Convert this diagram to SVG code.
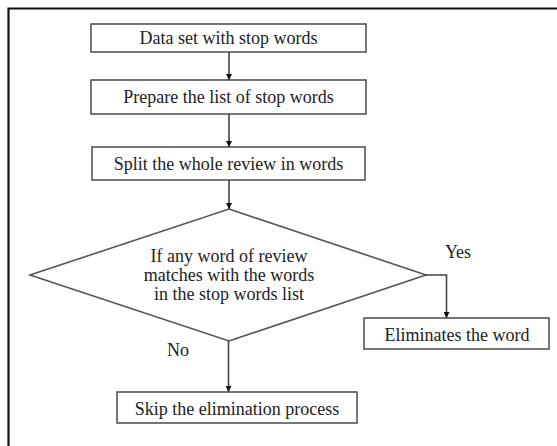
<svg xmlns="http://www.w3.org/2000/svg" width="557" height="446" viewBox="0 0 557 446">
<style>
.box{fill:#fff;stroke:#555;stroke-width:1.6}
.t{font-family:"Liberation Serif","Times New Roman",serif;font-size:18px;fill:#222;text-anchor:middle}
.c{fill:none;stroke:#444;stroke-width:1.6}
</style>
<defs>
<marker id="ah" viewBox="0 0 10 10" refX="10" refY="5" markerWidth="6" markerHeight="6" orient="auto" markerUnits="userSpaceOnUse">
<path d="M0,0 L10,5 L0,10 z" fill="#111"/>
</marker>
</defs>
<rect width="557" height="446" fill="#fff"/>
<path d="M8.5,446 V8.5 H557" fill="none" stroke="#111" stroke-width="2.2"/>
<g id="n1"><rect class="box" x="91" y="24" width="275" height="28"/><text class="t" x="228.5" y="44">Data set with stop words</text></g>
<g id="n2"><rect class="box" x="91" y="80" width="275" height="34"/><text class="t" x="228.5" y="103">Prepare the list of stop words</text></g>
<g id="n3"><rect class="box" x="92" y="147" width="273" height="33"/><text class="t" x="228.5" y="170">Split the whole review in words</text></g>
<g id="n4"><polygon class="box" points="229,209 426,275 229,341 30,275"/>
<text class="t" x="229" y="262">If any word of review</text>
<text class="t" x="229" y="281">matches with the words</text>
<text class="t" x="229" y="300">in the stop words list</text></g>
<g id="n5"><rect class="box" x="364" y="318" width="185" height="31"/><text class="t" x="457" y="341">Eliminates the word</text></g>
<g id="n6"><rect class="box" x="117" y="392" width="240" height="31"/><text class="t" x="237" y="415">Skip the elimination process</text></g>
<g id="connectors">
<line class="c" x1="229" y1="52" x2="229" y2="80" marker-end="url(#ah)"/>
<line class="c" x1="229" y1="114" x2="229" y2="147" marker-end="url(#ah)"/>
<line class="c" x1="229" y1="180" x2="229" y2="209" marker-end="url(#ah)"/>
<polyline class="c" points="426,275 446.5,275 446.5,318" marker-end="url(#ah)"/>
<line class="c" x1="228.5" y1="341" x2="228.5" y2="392" marker-end="url(#ah)"/>
<text class="t" x="458" y="258">Yes</text>
<text class="t" x="178" y="356">No</text>
</g>
</svg>
